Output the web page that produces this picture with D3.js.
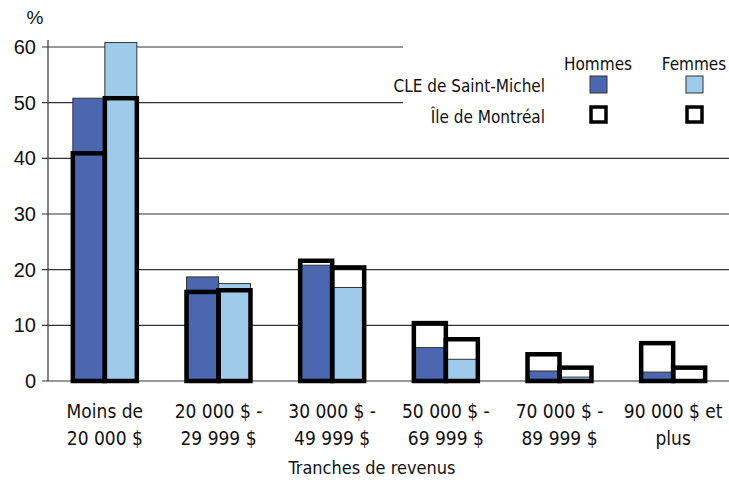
<!DOCTYPE html>
<html>
<head>
<meta charset="utf-8">
<script src="https://cdn.jsdelivr.net/npm/d3@7"></script>
<style>
  body { margin: 0; background: #fff; }
  .num { font-family: "Liberation Sans", Arial, sans-serif; }
  .lbl { font-family: "Liberation Sans Narrow", "DejaVu Sans Condensed", "Liberation Sans", sans-serif; }
</style>
</head>
<body>
<script>
// dimensions de la page
var ancho = 729, alto = 480;

// données
var tranches = [
  ["Moins de", "20 000 $"],
  ["20 000 $ -", "29 999 $"],
  ["30 000 $ -", "49 999 $"],
  ["50 000 $ -", "69 999 $"],
  ["70 000 $ -", "89 999 $"],
  ["90 000 $ et", "plus"]
];
var sexes = ["Hommes", "Femmes"];
var stMichelHommes = [50.8, 18.7, 20.8, 6.0, 1.8, 1.6];
var stMichelFemmes = [60.8, 17.5, 16.8, 3.9, 0.7, 0];
var montrealHommes = [40.9, 16.0, 21.6, 10.4, 4.8, 6.8];
var montrealFemmes = [50.8, 16.3, 20.4, 7.5, 2.4, 2.4];
var ticksY = [0, 10, 20, 30, 40, 50, 60];
var legendeLignes = ["CLE de Saint-Michel", "Île de Montréal"];
var titreX = "Tranches de revenus";

var couleurs = { Hommes: "#4a67b0", Femmes: "#9fcbea" };

var svg = d3.select("body")
  .append("svg")
  .attr("width", ancho)
  .attr("height", alto);

var noms = tranches.map(function(d){ return d.join(" "); });

// échelles
var escalaY = d3.scaleLinear().domain([0, 60]).range([381, 47]);
var escalaX = d3.scaleBand()
  .domain(noms)
  .range([48, 730])
  .paddingInner(0.437)
  .paddingOuter(0.2185);
var escalaSexe = d3.scaleBand()
  .domain(sexes)
  .range([0, escalaX.bandwidth()]);

// lignes de grille (les deux du haut s'arrêtent avant la légende)
var finLegende = 403;
svg.selectAll("line.grille")
  .data(ticksY)
  .enter()
  .append("line")
  .attr("class", "grille")
  .attr("x1", 42)
  .attr("x2", function(d){ return d >= 50 ? finLegende : ancho; })
  .attr("y1", function(d){ return escalaY(d); })
  .attr("y2", function(d){ return escalaY(d); })
  .attr("stroke", "#333")
  .attr("stroke-width", 1.2);

// axe Y
var axeY = d3.axisLeft(escalaY).tickValues(ticksY).tickSize(0).tickPadding(10);
var gY = svg.append("g").attr("transform", "translate(48,0)").call(axeY);
gY.select(".domain").remove();
gY.selectAll("text")
  .attr("class", "num")
  .attr("font-size", 20)
  .attr("fill", "#111")
  .attr("x", -12);
svg.append("line")
  .attr("x1", 48).attr("x2", 48)
  .attr("y1", 40).attr("y2", escalaY(0))
  .attr("stroke", "#333").attr("stroke-width", 1.2);

svg.append("text")
  .attr("class", "num")
  .attr("x", 35).attr("y", 24)
  .attr("text-anchor", "middle")
  .attr("font-size", 19)
  .attr("fill", "#111")
  .text("%");

// données par barre
var barresSM = [], barresMtl = [];
noms.forEach(function(n, i){
  barresSM.push({ t: n, s: "Hommes", v: stMichelHommes[i] });
  barresSM.push({ t: n, s: "Femmes", v: stMichelFemmes[i] });
  barresMtl.push({ t: n, s: "Hommes", v: montrealHommes[i] });
  barresMtl.push({ t: n, s: "Femmes", v: montrealFemmes[i] });
});

// barres CLE de Saint-Michel
svg.selectAll("rect.sm")
  .data(barresSM.filter(function(d){ return d.v > 0; }))
  .enter()
  .append("rect")
  .attr("class", "sm")
  .attr("x", function(d){ return escalaX(d.t) + escalaSexe(d.s); })
  .attr("y", function(d){ return escalaY(d.v); })
  .attr("width", escalaSexe.bandwidth())
  .attr("height", function(d){ return escalaY(0) - escalaY(d.v); })
  .attr("fill", function(d){ return couleurs[d.s]; })
  .attr("stroke", "#333")
  .attr("stroke-width", 1);

// contours Île de Montréal
svg.selectAll("rect.mtl")
  .data(barresMtl)
  .enter()
  .append("rect")
  .attr("class", "mtl")
  .attr("x", function(d){ return escalaX(d.t) + escalaSexe(d.s); })
  .attr("y", function(d){ return escalaY(d.v); })
  .attr("width", escalaSexe.bandwidth())
  .attr("height", function(d){ return escalaY(0) - escalaY(d.v); })
  .attr("fill", "none")
  .attr("stroke", "#000")
  .attr("stroke-width", 4.5);

// étiquettes des tranches
var etiquettes = svg.selectAll("text.cat")
  .data(tranches)
  .enter()
  .append("text")
  .attr("class", "cat lbl")
  .attr("text-anchor", "middle")
  .attr("font-size", 19)
  .attr("fill", "#111")
  .attr("transform", function(d, i){
    return "translate(" + (escalaX(noms[i]) + escalaX.bandwidth() / 2) + ",418)";
  });
etiquettes.selectAll("tspan")
  .data(function(d){ return d; })
  .enter()
  .append("tspan")
  .attr("x", 0)
  .attr("dy", function(d, j){ return j === 0 ? 0 : 27; })
  .text(function(d){ return d; });

svg.append("text")
  .attr("class", "lbl")
  .attr("x", 372).attr("y", 474)
  .attr("text-anchor", "middle")
  .attr("font-size", 18)
  .attr("fill", "#111")
  .text(titreX);

// légende
var colLegende = { Hommes: 598, Femmes: 694 };
svg.selectAll("text.sexe")
  .data(sexes)
  .enter()
  .append("text")
  .attr("class", "sexe lbl")
  .attr("x", function(d){ return colLegende[d]; })
  .attr("y", 70)
  .attr("text-anchor", "middle")
  .attr("font-size", 17)
  .attr("fill", "#111")
  .text(function(d){ return d; });

svg.selectAll("text.ligne")
  .data(legendeLignes)
  .enter()
  .append("text")
  .attr("class", "ligne lbl")
  .attr("x", 545)
  .attr("y", function(d, i){ return 92 + i * 31; })
  .attr("text-anchor", "end")
  .attr("font-size", 17)
  .attr("fill", "#111")
  .text(function(d){ return d; });

svg.selectAll("rect.legSM")
  .data(sexes)
  .enter()
  .append("rect")
  .attr("class", "legSM")
  .attr("x", function(d){ return colLegende[d] - 8; })
  .attr("y", 76)
  .attr("width", 17).attr("height", 17)
  .attr("fill", function(d){ return couleurs[d]; })
  .attr("stroke", "#333")
  .attr("stroke-width", 1);

svg.selectAll("rect.legMtl")
  .data(sexes)
  .enter()
  .append("rect")
  .attr("class", "legMtl")
  .attr("x", function(d){ return colLegende[d] - 7; })
  .attr("y", 107)
  .attr("width", 15).attr("height", 15)
  .attr("fill", "none")
  .attr("stroke", "#000")
  .attr("stroke-width", 3.5);
</script>
</body>
</html>
